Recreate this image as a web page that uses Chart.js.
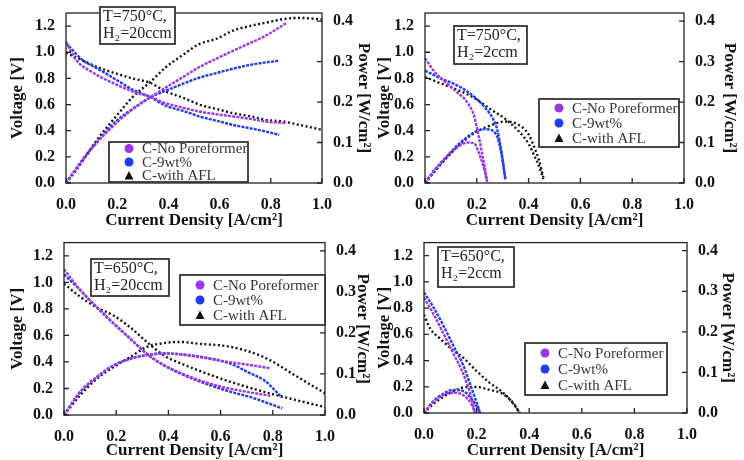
<!DOCTYPE html>
<html>
<head>
<meta charset="utf-8">
<script src="https://cdn.jsdelivr.net/npm/chart.js@4.4.0/dist/chart.umd.min.js"></script>
<style>
  body { margin: 0; background: #fff; }
  .panel { position: absolute; width: 372px; height: 230px; }
</style>
</head>
<body>
<div class="panel" style="left:0px;top:0px"><canvas id="chartA" width="372" height="230"></canvas></div>
<div class="panel" style="left:372px;top:0px"><canvas id="chartB" width="372" height="230"></canvas></div>
<div class="panel" style="left:0px;top:230px"><canvas id="chartC" width="372" height="230"></canvas></div>
<div class="panel" style="left:372px;top:230px"><canvas id="chartD" width="372" height="230"></canvas></div>
<script>
// legend entries
const seriesNames = ["C-No Poreformer", "C-9wt%", "C-with AFL"];
const seriesColors = ["#9b35e6", "#1f3cf0", "#111111"];

// tick labels
const xTicks = [0, 0.2, 0.4, 0.6, 0.8, 1.0];
const vTicks = [0, 0.2, 0.4, 0.6, 0.8, 1.0, 1.2];
const pTicks = [0, 0.1, 0.2, 0.3, 0.4];

// T=750°C, H2=20ccm
const a_note = ["T=750°C,", "H₂=20ccm"];
const a_I_np = [0, 0.04, 0.1, 0.2, 0.26, 0.33, 0.39, 0.46, 0.52, 0.59, 0.65, 0.72, 0.78, 0.86];
const a_V_np = [1.08, 0.94, 0.85, 0.75, 0.70, 0.657, 0.61, 0.575, 0.547, 0.525, 0.51, 0.49, 0.47, 0.458];
const a_P_np = [0, 0.035, 0.085, 0.15, 0.182, 0.212, 0.236, 0.263, 0.286, 0.308, 0.326, 0.346, 0.364, 0.395];
const a_I_9 = [0, 0.065, 0.13, 0.2, 0.26, 0.33, 0.39, 0.46, 0.52, 0.59, 0.65, 0.72, 0.78, 0.833];
const a_V_9 = [1.07, 0.94, 0.867, 0.785, 0.714, 0.657, 0.59, 0.55, 0.51, 0.475, 0.445, 0.418, 0.394, 0.368];
const a_P_9 = [0, 0.058, 0.108, 0.155, 0.183, 0.212, 0.228, 0.246, 0.26, 0.272, 0.282, 0.292, 0.298, 0.302];
const a_I_afl = [0, 0.04, 0.13, 0.2, 0.26, 0.33, 0.39, 0.46, 0.52, 0.59, 0.65, 0.72, 0.78, 0.85, 0.91, 1.0];
const a_V_afl = [0.995, 0.96, 0.88, 0.835, 0.80, 0.765, 0.70, 0.65, 0.60, 0.565, 0.535, 0.51, 0.483, 0.47, 0.445, 0.407];
const a_P_afl = [0, 0.032, 0.114, 0.168, 0.212, 0.25, 0.286, 0.318, 0.343, 0.357, 0.376, 0.388, 0.396, 0.405, 0.408, 0.404];

// T=750°C, H2=2ccm
const b_note = ["T=750°C,", "H₂=2ccm"];
const b_I_np = [0, 0.037, 0.076, 0.128, 0.166, 0.19, 0.205, 0.218, 0.23, 0.24];
const b_V_np = [0.954, 0.85, 0.776, 0.687, 0.61, 0.51, 0.38, 0.254, 0.127, 0.01];
const b_P_np = [0, 0.033, 0.06, 0.09, 0.1, 0.098, 0.08, 0.056, 0.03, 0.003];
const b_I_9 = [0, 0.06, 0.13, 0.19, 0.23, 0.26, 0.28, 0.29, 0.3, 0.31];
const b_V_9 = [0.86, 0.8, 0.74, 0.66, 0.58, 0.5, 0.4, 0.3, 0.18, 0.03];
const b_P_9 = [0, 0.048, 0.096, 0.125, 0.133, 0.13, 0.112, 0.087, 0.054, 0.009];
const b_I_afl = [0, 0.076, 0.128, 0.19, 0.256, 0.31, 0.36, 0.4, 0.424, 0.44, 0.457];
const b_V_afl = [0.81, 0.75, 0.71, 0.65, 0.56, 0.49, 0.4, 0.3, 0.2, 0.13, 0.03];
const b_P_afl = [0, 0.057, 0.091, 0.123, 0.143, 0.152, 0.144, 0.12, 0.085, 0.057, 0.014];

// T=650°C, H2=20ccm
const c_note = ["T=650°C,", "H₂=20ccm"];
const c_I_np = [0, 0.063, 0.127, 0.19, 0.254, 0.318, 0.382, 0.51, 0.6, 0.7, 0.79];
const c_V_np = [1.1, 0.94, 0.81, 0.69, 0.575, 0.46, 0.378, 0.268, 0.215, 0.175, 0.145];
const c_P_np = [0, 0.057, 0.093, 0.121, 0.137, 0.146, 0.15, 0.142, 0.132, 0.123, 0.114];
const c_I_9 = [0, 0.063, 0.127, 0.19, 0.254, 0.318, 0.382, 0.51, 0.638, 0.715, 0.766, 0.836];
const c_V_9 = [1.06, 0.94, 0.81, 0.69, 0.575, 0.46, 0.375, 0.26, 0.175, 0.135, 0.1, 0.05];
const c_P_9 = [0, 0.057, 0.093, 0.121, 0.137, 0.146, 0.15, 0.143, 0.125, 0.101, 0.085, 0.042];
const c_I_afl = [0, 0.063, 0.127, 0.19, 0.254, 0.318, 0.382, 0.446, 0.51, 0.638, 0.766, 0.894, 1.0];
const c_V_afl = [0.99, 0.89, 0.81, 0.75, 0.66, 0.55, 0.45, 0.39, 0.34, 0.25, 0.175, 0.11, 0.06];
const c_P_afl = [0, 0.049, 0.089, 0.117, 0.141, 0.166, 0.175, 0.178, 0.174, 0.166, 0.141, 0.093, 0.053];

// T=650°C, H2=2ccm
const d_note = ["T=650°C,", "H₂=2ccm"];
const d_I_np = [0, 0.035, 0.073, 0.11, 0.15, 0.18, 0.194];
const d_V_np = [0.88, 0.76, 0.61, 0.46, 0.295, 0.12, 0.0];
const d_P_np = [0, 0.027, 0.044, 0.05, 0.044, 0.022, 0];
const d_I_9 = [0, 0.035, 0.073, 0.11, 0.15, 0.18, 0.206, 0.213];
const d_V_9 = [0.92, 0.81, 0.67, 0.52, 0.36, 0.195, 0.045, 0];
const d_P_9 = [0, 0.029, 0.047, 0.057, 0.054, 0.035, 0.01, 0];
const d_I_afl = [0, 0.023, 0.06, 0.11, 0.15, 0.2, 0.25, 0.3, 0.34, 0.364];
const d_V_afl = [0.75, 0.645, 0.57, 0.48, 0.42, 0.32, 0.23, 0.157, 0.07, 0];
const d_P_afl = [0, 0.015, 0.034, 0.053, 0.063, 0.064, 0.057, 0.047, 0.024, 0];

const serif = "'Liberation Serif', 'Times New Roman', serif";

// one voltage + one power curve per sample
function series(I, V, P, k) {
  const look = {
    borderColor: seriesColors[k],
    borderWidth: 2.4,
    borderDash: k == 2 ? [2, 2.5] : [3, 1.2],
    pointRadius: 0,
    cubicInterpolationMode: "monotone",
    fill: false,
  };
  return [
    Object.assign({}, look, { yAxisID: "y", data: I.map((x, i) => ({ x: x, y: V[i] })) }),
    Object.assign({}, look, { yAxisID: "y1", data: I.map((x, i) => ({ x: x, y: P[i] })) }),
  ];
}

// frame, inward ticks, note box and legend box
const framePlugin = {
  id: "frame",
  afterDraw(chart, args, opts) {
    const ctx = chart.ctx;
    const a = chart.chartArea;
    ctx.save();
    ctx.strokeStyle = "#222";
    ctx.lineWidth = 1.3;
    ctx.strokeRect(a.left, a.top, a.right - a.left, a.bottom - a.top);

    ctx.beginPath();
    const sx = chart.scales.x, sy = chart.scales.y, sp = chart.scales.y1;
    sx.ticks.forEach((t) => {
      const p = sx.getPixelForValue(t.value);
      ctx.moveTo(p, a.bottom); ctx.lineTo(p, a.bottom - 5);
    });
    sy.ticks.forEach((t) => {
      const p = sy.getPixelForValue(t.value);
      ctx.moveTo(a.left, p); ctx.lineTo(a.left + 5, p);
    });
    sp.ticks.forEach((t) => {
      const p = sp.getPixelForValue(t.value);
      ctx.moveTo(a.right, p); ctx.lineTo(a.right - 5, p);
    });
    ctx.stroke();

    // condition label
    const n = opts.note;
    ctx.fillStyle = "#fff";
    ctx.fillRect(n.x, n.y, n.w, n.h);
    ctx.lineWidth = 1.8;
    ctx.strokeStyle = "#333";
    ctx.strokeRect(n.x, n.y, n.w, n.h);
    ctx.fillStyle = "#222";
    ctx.font = "16px " + serif;
    ctx.textBaseline = "middle";
    ctx.textAlign = "left";
    n.text.forEach((s, i) => ctx.fillText(s, n.x + 3, n.y + 10 + i * 16.5));

    // legend
    const g = opts.legendBox;
    ctx.fillStyle = "#fff";
    ctx.fillRect(g.x, g.y, g.w, g.h);
    ctx.strokeRect(g.x, g.y, g.w, g.h);
    seriesNames.forEach((s, i) => {
      const cy = g.y + g.h / 2 + (i - 1) * g.gap;
      const cx = g.x + 20;
      ctx.fillStyle = seriesColors[i];
      ctx.beginPath();
      if (i == 2) {
        ctx.moveTo(cx, cy - 4.5); ctx.lineTo(cx + 4.5, cy + 4); ctx.lineTo(cx - 4.5, cy + 4);
        ctx.closePath();
      } else {
        ctx.arc(cx, cy, 4.5, 0, Math.PI * 2);
      }
      ctx.fill();
      ctx.fillStyle = "#333";
      ctx.font = "15px " + serif;
      ctx.fillText(s, g.x + 33, cy + 1);
    });
    ctx.restore();
  },
};

function makeChart(id, area, datasets, note, legendBox) {
  const tickFont = { family: serif, size: 16, weight: "bold" };
  const titleFont = { family: serif, size: 17, weight: "bold" };
  return new Chart(document.getElementById(id), {
    type: "line",
    data: { datasets: datasets },
    options: {
      responsive: false,
      animation: false,
      layout: { padding: { top: area.top, left: 0, right: 0, bottom: 0 } },
      plugins: {
        legend: { display: false },
        tooltip: { enabled: false },
        frame: { note: note, legendBox: legendBox },
      },
      scales: {
        x: {
          type: "linear", min: 0, max: 1,
          afterBuildTicks: (s) => { s.ticks = xTicks.map((v) => ({ value: v })); },
          afterFit: (s) => { s.height = 230 - area.bottom; },
          grid: { display: false },
          border: { display: false },
          ticks: { color: "#111", font: tickFont, padding: 4, maxRotation: 0, callback: (v) => v.toFixed(1) },
          title: { display: true, text: "Current Density [A/cm²]", color: "#111", font: titleFont, padding: { top: 0, bottom: -1 } },
        },
        y: {
          position: "left", min: 0, max: 1.3,
          afterBuildTicks: (s) => { s.ticks = vTicks.map((v) => ({ value: v })); },
          afterFit: (s) => { s.width = area.left; },
          grid: { display: false },
          border: { display: false },
          ticks: { color: "#111", font: tickFont, padding: 3, callback: (v) => v.toFixed(1) },
          title: { display: true, text: "Voltage [V]", color: "#111", font: titleFont, padding: { top: area.vTitle - 10.2, bottom: 0 } },
        },
        y1: {
          position: "right", min: 0, max: 0.42,
          afterBuildTicks: (s) => { s.ticks = pTicks.map((v) => ({ value: v })); },
          afterFit: (s) => { s.width = 372 - area.right; },
          grid: { display: false },
          border: { display: false },
          ticks: { color: "#111", font: tickFont, padding: 3, callback: (v) => v.toFixed(1) },
          title: { display: true, text: "Power [W/cm²]", color: "#111", font: titleFont, padding: { top: area.pTitle - 10.2, bottom: 0 } },
        },
      },
    },
    plugins: [framePlugin],
  });
}

const chartA = makeChart("chartA", { left: 66, right: 322, top: 13, bottom: 183, vTitle: 18, pTitle: 9 },
  [].concat(series(a_I_np, a_V_np, a_P_np, 0), series(a_I_9, a_V_9, a_P_9, 1), series(a_I_afl, a_V_afl, a_P_afl, 2)),
  { x: 100, y: 7, w: 75, h: 37, text: a_note },
  { x: 109, y: 142, w: 139, h: 40, gap: 13.5 });

const chartB = makeChart("chartB", { left: 53, right: 312, top: 13, bottom: 183, vTitle: 13, pTitle: 15 },
  [].concat(series(b_I_np, b_V_np, b_P_np, 0), series(b_I_9, b_V_9, b_P_9, 1), series(b_I_afl, b_V_afl, b_P_afl, 2)),
  { x: 82, y: 26, w: 73, h: 38, text: b_note },
  { x: 167, y: 99, w: 140, h: 48, gap: 15 });

const chartC = makeChart("chartC", { left: 64, right: 325, top: 12, bottom: 185, vTitle: 18, pTitle: 10 },
  [].concat(series(c_I_np, c_V_np, c_P_np, 0), series(c_I_9, c_V_9, c_P_9, 1), series(c_I_afl, c_V_afl, c_P_afl, 2)),
  { x: 91, y: 29, w: 78, h: 37, text: c_note },
  { x: 180, y: 45, w: 145, h: 50, gap: 15 });

const chartD = makeChart("chartD", { left: 52, right: 315, top: 10, bottom: 183, vTitle: 13, pTitle: 17 },
  [].concat(series(d_I_np, d_V_np, d_P_np, 0), series(d_I_9, d_V_9, d_P_9, 1), series(d_I_afl, d_V_afl, d_P_afl, 2)),
  { x: 66, y: 17, w: 76, h: 40, text: d_note },
  { x: 153, y: 113, w: 142, h: 52, gap: 16 });
</script>
</body>
</html>
